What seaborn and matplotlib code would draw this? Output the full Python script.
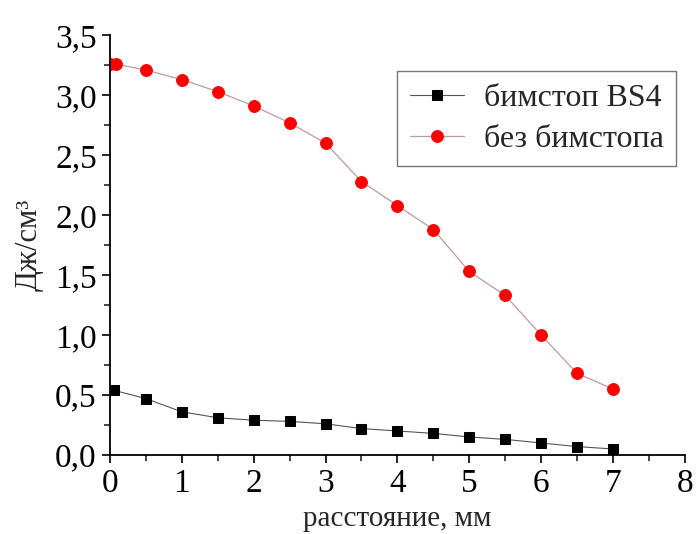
import numpy as np
import pandas as pd
import matplotlib as mpl
mpl.use("Agg")
import matplotlib.pyplot as plt
import seaborn as sns
from matplotlib.ticker import FuncFormatter, MultipleLocator

# dados
x_bs4 = [0.05, 0.5, 1.0, 1.5, 2.0, 2.5, 3.0, 3.5, 4.0, 4.5, 5.0, 5.5, 6.0, 6.5, 7.0]
y_bs4 = [0.54, 0.47, 0.36, 0.31, 0.29, 0.28, 0.26, 0.22, 0.20, 0.18, 0.15, 0.13, 0.10, 0.07, 0.05]

x_sem = [0.0, 0.08, 0.5, 1.0, 1.5, 2.0, 2.5, 3.0, 3.5, 4.0, 4.5, 5.0, 5.5, 6.0, 6.5, 7.0]
y_sem = [3.26, 3.26, 3.21, 3.13, 3.03, 2.91, 2.77, 2.60, 2.28, 2.08, 1.88, 1.53, 1.33, 1.00, 0.68, 0.55]

nome_bs4 = "бимстоп BS4"
nome_sem = "без бимстопа"

sns.set_style("ticks")
plt.rcParams["font.family"] = ["Liberation Serif", "DejaVu Serif"]

fig = plt.figure(figsize=(6.96, 5.34), dpi=100)
ax = fig.add_axes([0.158, 0.148, 0.826, 0.786])

sns.lineplot(x=x_bs4, y=y_bs4, ax=ax, color="#555555", linewidth=0.8,
             marker="s", markersize=7, markerfacecolor="black",
             markeredgecolor="black", label=nome_bs4, sort=False)
sns.lineplot(x=x_sem, y=y_sem, ax=ax, color="#c09a9a", linewidth=0.9,
             marker="o", markersize=8.5, markerfacecolor="red",
             markeredgecolor="red", label=nome_sem, sort=False)

ax.set_xlim(0, 8)
ax.set_ylim(0, 3.5)
ax.xaxis.set_major_locator(MultipleLocator(1))
ax.xaxis.set_minor_locator(MultipleLocator(0.5))
ax.yaxis.set_major_locator(MultipleLocator(0.5))
ax.yaxis.set_minor_locator(MultipleLocator(0.25))
ax.yaxis.set_major_formatter(FuncFormatter(lambda v, p: f"{v:.1f}".replace(".", ",")))

ax.tick_params(axis="both", which="major", direction="out", length=6, width=1.2,
               labelsize=24, colors="black")
ax.tick_params(axis="both", which="minor", direction="out", length=4, width=1.2)
for s in ["left", "bottom"]:
    ax.spines[s].set_linewidth(1.3)
    ax.spines[s].set_color("black")
sns.despine(ax=ax)

ax.set_xlabel("расстояние, мм", fontsize=21, labelpad=5)
ax.set_ylabel("Дж/см³", fontsize=22, labelpad=8)

leg = ax.legend(loc="upper right", bbox_to_anchor=(0.996, 0.93), fontsize=23,
                frameon=True, fancybox=False, edgecolor="#555555",
                handlelength=1.7, borderpad=0.4, labelspacing=0.35,
                handletextpad=0.6, borderaxespad=0.2)
leg.get_frame().set_linewidth(1.0)

plt.savefig("out.png", dpi=100)
